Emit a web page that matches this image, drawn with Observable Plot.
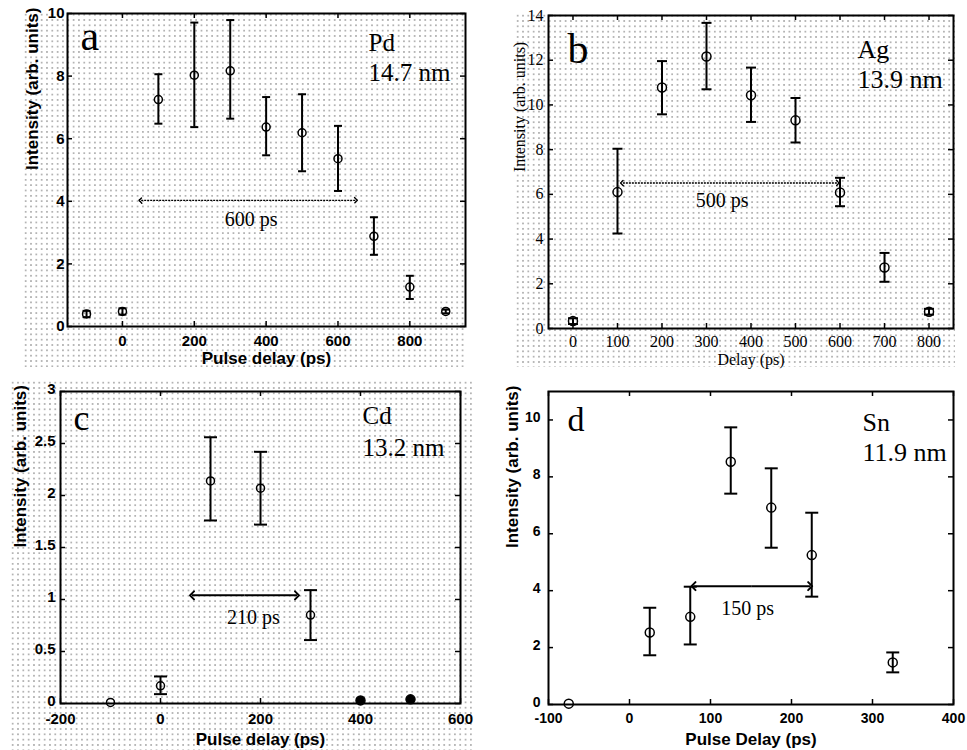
<!DOCTYPE html>
<html><head><meta charset="utf-8">
<script src="https://cdn.jsdelivr.net/npm/d3@7"></script>
<script src="https://cdn.jsdelivr.net/npm/@observablehq/plot@0.6"></script>
<style>
body{margin:0;background:#fff;}
#root{position:relative;width:967px;height:750px;overflow:hidden;background:#fff;}
.dots{position:absolute;background-image:radial-gradient(circle, #b4b4b4 0.65px, rgba(255,255,255,0) 1.05px);background-size:5.33px 5.33px;}
.panel{position:absolute;}
.panel svg{display:block;background:transparent;}
</style></head><body><div id="root"></div>
<script>
// ---- Panel a : Pd 14.7 nm ----
const aDelay = [-100, 0, 100, 200, 300, 400, 500, 600, 700, 800, 900];
const aIntensity = [0.40, 0.48, 7.25, 8.03, 8.17, 6.37, 6.19, 5.36, 2.88, 1.26, 0.48];
const aLow = [0.30, 0.38, 6.48, 6.37, 6.64, 5.47, 4.96, 4.33, 2.29, 0.88, 0.42];
const aHigh = [0.50, 0.58, 8.06, 9.71, 9.79, 7.33, 7.42, 6.41, 3.49, 1.62, 0.54];
const aXTicks = [0, 200, 400, 600, 800];
const aYTicks = [0, 2, 4, 6, 8, 10];
const aArrow = [50, 650, 4.03];
const aArrowText = ["600 ps", 358, 3.41];

// ---- Panel b : Ag 13.9 nm ----
const bDelay = [0, 100, 200, 300, 400, 500, 600, 700, 800];
const bIntensity = [0.33, 6.10, 10.78, 12.17, 10.43, 9.31, 6.08, 2.73, 0.75];
const bLow = [0.20, 4.25, 9.58, 10.70, 9.24, 8.32, 5.47, 2.09, 0.62];
const bHigh = [0.46, 8.04, 11.96, 13.67, 11.67, 10.31, 6.74, 3.38, 0.88];
const bXTicks = [0, 100, 200, 300, 400, 500, 600, 700, 800];
const bYTicks = [0, 2, 4, 6, 8, 10, 12, 14];
const bArrow = [110, 595, 6.51];
const bArrowText = ["500 ps", 335, 5.74];

// ---- Panel c : Cd 13.2 nm ----
const cDelay = [-100, 0, 100, 200, 300, 400, 500];
const cIntensity = [0.01, 0.17, 2.14, 2.07, 0.85, 0.03, 0.04];
const cLow = [null, 0.09, 1.76, 1.72, 0.61, null, null];
const cHigh = [null, 0.26, 2.56, 2.42, 1.09, null, null];
const cFilled = [false, false, false, false, false, true, true];
const cXTicks = [-200, 0, 200, 400, 600];
const cYTicks = [0, 0.5, 1, 1.5, 2, 2.5, 3];
const cArrow = [63, 273, 1.04];
const cArrowText = ["210 ps", 186, 0.83];

// ---- Panel d : Sn 11.9 nm ----
const dDelay = [-75, 25, 75, 125, 175, 225, 325];
const dIntensity = [0.03, 2.53, 3.08, 8.53, 6.92, 5.25, 1.48];
const dLow = [null, 1.73, 2.11, 7.41, 5.51, 3.79, 1.13];
const dHigh = [null, 3.40, 4.14, 9.74, 8.30, 6.74, 1.83];
const dXTicks = [-100, 0, 100, 200, 300, 400];
const dYTicks = [0, 2, 4, 6, 8, 10];
const dArrow = [79, 223, 4.16];
const dArrowText = ["150 ps", 146, 3.38];

const SERIF = "'Liberation Serif','Times New Roman',serif";
const SANS = "'Liberation Sans',Arial,sans-serif";

function panel(c) {
  const rows = c.delay.map((x, i) => ({x, y: c.intensity[i], lo: c.low[i], hi: c.high[i], filled: c.filled ? c.filled[i] : false}));
  const iw = c.width - c.ml - c.mr, ih = c.height - c.mt - c.mb;
  const cap = {draw(ctx, size) { const r = Math.sqrt(size / Math.PI); ctx.moveTo(-r, 0); ctx.lineTo(r, 0); }};
  const mid = (c.arrow[0] + c.arrow[1]) / 2;
  const halves = [[mid, c.arrow[0], c.arrow[2]], [mid, c.arrow[1], c.arrow[2]]];
  return Plot.plot({
    width: c.width, height: c.height,
    marginLeft: c.ml, marginRight: c.mr, marginTop: c.mt, marginBottom: c.mb,
    x: {domain: c.xDomain},
    y: {domain: c.yDomain},
    style: {fontFamily: c.font, fontWeight: c.weight, fontSize: c.tickFont + "px", color: "black", background: "transparent"},
    marks: [
      Plot.ruleX(c.xTicks, {x: d => d, insetTop: ih - 5, strokeWidth: 1.5}),
      Plot.ruleX(c.xTicks, {x: d => d, insetBottom: ih - 5, strokeWidth: 1.5}),
      Plot.ruleY(c.yTicks, {y: d => d, insetRight: iw - 5, strokeWidth: 1.5}),
      Plot.ruleY(c.yTicks, {y: d => d, insetLeft: iw - 5, strokeWidth: 1.5}),
      Plot.axisX(c.xTicks, {anchor: "bottom", tickSize: 0, tickPadding: c.xPad, tickFormat: d => String(d), label: null, fontSize: c.tickFont, fontWeight: c.weight, fontFamily: c.font}),
      Plot.axisY(c.yTicks, {anchor: "left", tickSize: 0, tickPadding: c.yPad, dy: c.yDy, tickFormat: d => String(d), label: null, fontSize: c.tickFont, fontWeight: c.weight, fontFamily: c.font}),
      Plot.frame({strokeWidth: 2, stroke: "black"}),
      Plot.ruleX(rows, {x: "x", y1: "lo", y2: "hi", strokeWidth: 2, stroke: "black"}),
      Plot.dot(rows, {x: "x", y: "lo", r: c.capR, symbol: cap, stroke: "black", fill: "none", strokeWidth: 2}),
      Plot.dot(rows, {x: "x", y: "hi", r: c.capR, symbol: cap, stroke: "black", fill: "none", strokeWidth: 2}),
      Plot.dot(rows.filter(d => !d.filled), {x: "x", y: "y", r: c.r, stroke: "black", fill: "none", strokeWidth: 1.5}),
      Plot.dot(rows.filter(d => d.filled), {x: "x", y: "y", r: c.r + 0.5, fill: "black", stroke: "black"}),
      Plot.link(halves, {x1: d => d[0], x2: d => d[1], y1: d => d[2], y2: d => d[2], markerEnd: "arrow", strokeWidth: c.arrowW, stroke: "black", strokeDasharray: c.arrowDash}),
      Plot.text([c.arrowText], {x: d => d[1], y: d => d[2], text: d => d[0], fontFamily: SERIF, fontWeight: "normal", fontSize: 20, lineAnchor: "middle"}),
      Plot.text([c.letter], {frameAnchor: "top-left", text: d => d, textAnchor: "start", lineAnchor: "bottom", dx: c.letterDx, dy: c.letterDy, fontFamily: SERIF, fontWeight: "normal", fontSize: c.letterSize}),
      Plot.text([c.element + "\n" + c.wavelength], {frameAnchor: "top-right", text: d => d, textAnchor: "start", lineAnchor: "bottom", dx: c.elDx, dy: c.elDy, lineHeight: c.elLH, fontFamily: SERIF, fontWeight: "normal", fontSize: c.elSize}),
      Plot.text([c.xLabel], {frameAnchor: "bottom", text: d => d, lineAnchor: "middle", dy: c.xLabelDy, fontSize: c.labelFont, fontWeight: c.weight, fontFamily: c.font}),
      Plot.text([c.yLabel], {frameAnchor: "left", text: d => d, lineAnchor: "middle", rotate: -90, dx: c.yLabelDx, fontSize: c.labelFont, fontWeight: c.weight, fontFamily: c.font})
    ]
  });
}

const root = document.getElementById("root");
function addDots(l, t, w, h) {
  const d = document.createElement("div");
  d.className = "dots";
  Object.assign(d.style, {left: l + "px", top: t + "px", width: w + "px", height: h + "px"});
  root.appendChild(d);
}
function place(el, l, t) {
  const d = document.createElement("div");
  d.className = "panel";
  d.style.left = l + "px"; d.style.top = t + "px";
  d.appendChild(el);
  root.appendChild(d);
}
addDots(23, 12, 443, 355);
addDots(515, 13, 440, 354);
addDots(10, 380, 463, 370);

place(panel({
  delay: aDelay, intensity: aIntensity, low: aLow, high: aHigh,
  xTicks: aXTicks, yTicks: aYTicks, arrow: aArrow, arrowText: aArrowText,
  width: 480, height: 370, ml: 67, mr: 15, mt: 13, mb: 44,
  xDomain: [-153, 955], yDomain: [0, 10],
  font: SANS, weight: "bold", tickFont: 15, labelFont: 17, xPad: 9, yPad: 3, yDy: 0,
  r: 4, capR: 4, arrowW: 1.4, arrowDash: "2,1",
  letter: "a", letterDx: 13, letterDy: 36, letterSize: 42,
  element: "Pd", wavelength: "14.7 nm", elDx: -97, elDy: 67, elLH: 1.2, elSize: 25,
  xLabel: "Pulse delay (ps)", xLabelDy: 32, yLabel: "Intensity (arb. units)", yLabelDx: -35
}), 0, 0);

place(panel({
  delay: bDelay, intensity: bIntensity, low: bLow, high: bHigh,
  xTicks: bXTicks, yTicks: bYTicks, arrow: bArrow, arrowText: bArrowText,
  width: 487, height: 370, ml: 68, mr: 14, mt: 15, mb: 42,
  xDomain: [-55, 855], yDomain: [0, 14],
  font: SERIF, weight: "normal", tickFont: 16, labelFont: 16, xPad: 7, yPad: 5, yDy: 0,
  r: 4.5, capR: 5, arrowW: 1.4, arrowDash: "2,1",
  letter: "b", letterDx: 19, letterDy: 47, letterSize: 42,
  element: "Ag", wavelength: "13.9 nm", elDx: -96, elDy: 72, elLH: 1.15, elSize: 26,
  xLabel: "Delay (ps)", xLabelDy: 31, yLabel: "Intensity (arb. units)", yLabelDx: -29
}), 480, 0);

place(panel({
  delay: cDelay, intensity: cIntensity, low: cLow, high: cHigh, filled: cFilled,
  xTicks: cXTicks, yTicks: cYTicks, arrow: cArrow, arrowText: cArrowText,
  width: 480, height: 380, ml: 60, mr: 20, mt: 21, mb: 47,
  xDomain: [-200, 600], yDomain: [0, 3],
  font: SANS, weight: "bold", tickFont: 15, labelFont: 17, xPad: 10, yPad: 5, yDy: -2,
  r: 4, capR: 6.5, arrowW: 2, arrowDash: null,
  letter: "c", letterDx: 13, letterDy: 38, letterSize: 36,
  element: "Cd", wavelength: "13.2 nm", elDx: -98, elDy: 64, elLH: 1.28, elSize: 25,
  xLabel: "Pulse delay (ps)", xLabelDy: 36, yLabel: "Intensity (arb. units)", yLabelDx: -40
}), 0, 370);

place(panel({
  delay: dDelay, intensity: dIntensity, low: dLow, high: dHigh,
  xTicks: dXTicks, yTicks: dYTicks, arrow: dArrow, arrowText: dArrowText,
  width: 487, height: 380, ml: 68, mr: 14, mt: 21, mb: 46,
  xDomain: [-100, 400], yDomain: [0, 11],
  font: SANS, weight: "bold", tickFont: 14, labelFont: 17, xPad: 9, yPad: 8, yDy: -2,
  r: 4.5, capR: 6.5, arrowW: 2, arrowDash: null,
  letter: "d", letterDx: 19, letterDy: 39, letterSize: 34,
  element: "Sn", wavelength: "11.9 nm", elDx: -91, elDy: 69, elLH: 1.15, elSize: 26,
  xLabel: "Pulse Delay (ps)", xLabelDy: 35, yLabel: "Intensity (arb. units)", yLabelDx: -36
}), 480, 370);
</script></body></html>
